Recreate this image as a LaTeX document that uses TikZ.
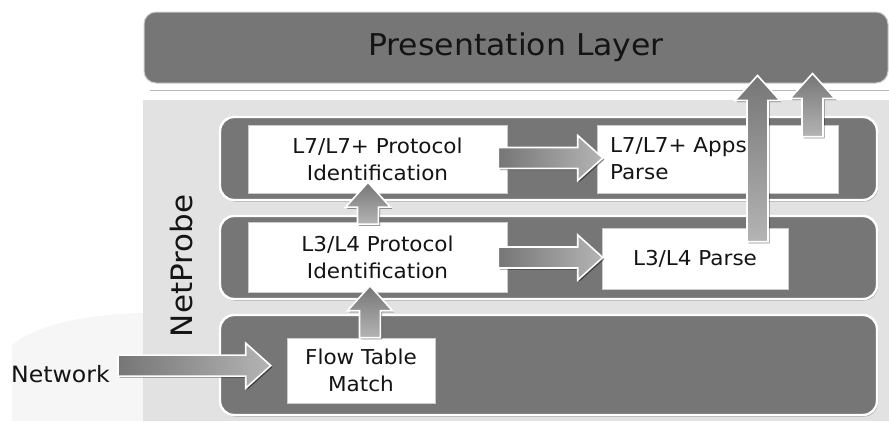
\documentclass[tikz,border=0pt]{standalone}
\usepackage{fontspec}
\setmainfont[FakeStretch=1.05]{DejaVu Sans}
\usetikzlibrary{calc,shadows}

\definecolor{bandgray}{HTML}{767676}
\definecolor{probebg}{HTML}{E2E2E2}
\definecolor{cloudgray}{HTML}{F6F6F6}
\definecolor{arrowdark}{HTML}{767676}
\definecolor{arrowlight}{HTML}{B4B4B4}
\definecolor{inkc}{HTML}{141414}

% block arrow dimensions: shaft width, head width, head length
\def\arwS{21pt}
\def\arwH{45pt}
\def\arwL{25pt}

\tikzset{
  arrowbody/.style={draw=white, line width=1.6pt, line join=miter,
    drop shadow={shadow xshift=1.6pt, shadow yshift=-1.6pt, opacity=0.45, fill=black}},
  harrow/.style={arrowbody, left color=arrowdark, right color=arrowlight,
    to path={let \p1=(\tikztostart), \p2=(\tikztotarget) in
      ({\x1},{\y1+0.5*\arwS}) -- ({\x2-\arwL},{\y1+0.5*\arwS}) --
      ({\x2-\arwL},{\y1+0.5*\arwH}) -- ({\x2},{\y1}) --
      ({\x2-\arwL},{\y1-0.5*\arwH}) -- ({\x2-\arwL},{\y1-0.5*\arwS}) --
      ({\x1},{\y1-0.5*\arwS}) -- cycle}},
  varrow/.style={arrowbody, top color=arrowdark, bottom color=arrowlight,
    to path={let \p1=(\tikztostart), \p2=(\tikztotarget) in
      ({\x1-0.5*\arwS},{\y1}) -- ({\x1-0.5*\arwS},{\y2-\arwL}) --
      ({\x1-0.5*\arwH},{\y2-\arwL}) -- ({\x1},{\y2}) --
      ({\x1+0.5*\arwH},{\y2-\arwL}) -- ({\x1+0.5*\arwS},{\y2-\arwL}) --
      ({\x1+0.5*\arwS},{\y1}) -- cycle}},
  band/.style={fill=bandgray, draw=white, line width=2.4pt, rounded corners=14pt,
    inner sep=0pt,
    drop shadow={shadow xshift=1pt, shadow yshift=-1.5pt, opacity=0.3, fill=black}},
  pres/.style={fill=bandgray, draw=white!80!black, line width=1pt, rounded corners=12pt,
    inner sep=0pt, text=inkc, font=\fontsize{30}{32}\selectfont},
  txt/.style={text=inkc, font=\fontsize{20.5}{27}\selectfont},
  box/.style={txt, fill=white, draw=white!80!black, line width=0.5pt,
    inner sep=0pt, align=center},
}

\begin{document}
\begin{tikzpicture}[x=1pt, y=-1pt]
  \useasboundingbox (0,0) rectangle (889,423);

  % faint network cloud and the NetProbe backdrop
  \fill[cloudgray] (12,421) -- (12,345) .. controls (40,322) and (95,314) .. (143,313) -- (143,421) -- cycle;
  \fill[probebg] (143,100) rectangle (889,421);

  % presentation layer
  \draw[white!72!black, line width=1pt] (150,90) -- (889,90);
  \node[pres, minimum width=744, minimum height=71] (pres) at (516,47.5) {Presentation Layer};

  % processing bands
  \node[band, minimum width=657, minimum height=83] (bandA) at (548.5,158.5) {};
  \node[band, minimum width=657, minimum height=83] (bandB) at (548.5,257.5) {};
  \node[band, minimum width=657, minimum height=100] (bandC) at (548.5,365) {};

  % NetProbe label
  \node[rotate=90, text=inkc, font=\fontsize{29.5}{32}\selectfont] (probe) at (182,266) {NetProbe};

  % processing stages
  \node[box, minimum width=259, minimum height=68] (l7id) at (377.5,159) {L7/L7+ Protocol\\Identification};
  \node[box, minimum width=241, minimum height=68, text width=215, inner xsep=13pt, align=left] (apps) at (717.5,159) {L7/L7+ Apps\\Parse};
  \node[box, minimum width=259, minimum height=70] (l3id) at (377.5,257.5) {L3/L4 Protocol\\Identification};
  \node[box, minimum width=186, minimum height=61] (l3parse) at (695,258.5) {L3/L4 Parse};
  \node[box, minimum width=148, minimum height=65] (flow) at (361,370.5) {Flow Table\\Match};

  % input label
  \node[txt, font=\fontsize{22.5}{27}\selectfont, anchor=base west, inner sep=0pt] (net) at (11,382) {Network};

  % arrow axes
  \coordinate (axA) at (370,0);
  \coordinate (axB) at (368,0);
  \coordinate (axC) at (757.5,0);
  \coordinate (axD) at (812.5,0);

  % flow arrows
  \path[harrow] ($(net.east)+(8,-8)$) to ($(flow.west)+(-16,3)$);
  \path[varrow] (flow.north -| axA) to ($(l3id.south -| axA)+(0,-7)$);
  \path[varrow] ($(l3id.north -| axB)+(0,2)$) to ($(l7id.south -| axB)+(0,-11)$);
  \path[harrow] ($(l7id.east)+(-9,-1)$) to ($(apps.west)+(6,-1)$);
  \path[harrow] ($(l3id.east)+(-9,0)$) to ($(l3parse.west)+(1,0)$);
  \path[varrow] ($(l3parse.north -| axC)+(0,14)$) to ($(pres.south -| axC)+(0,-8)$);
  \path[varrow] ($(apps.north -| axD)+(0,12)$) to ($(pres.south -| axD)+(0,-10)$);
\end{tikzpicture}
\end{document}
